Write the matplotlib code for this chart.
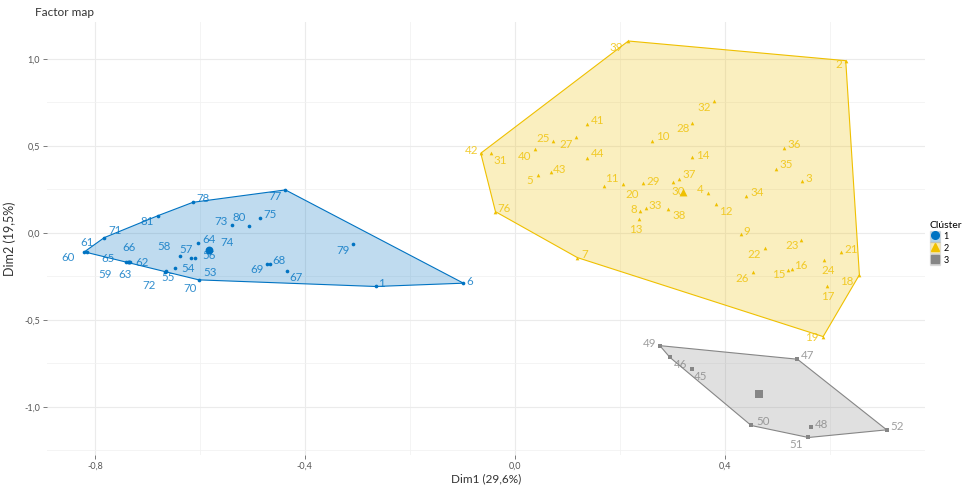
import matplotlib
matplotlib.use("Agg")
import matplotlib.pyplot as plt
from matplotlib.patches import Polygon, Patch
from matplotlib.lines import Line2D

plt.rcParams['font.family'] = ['Lato', 'DejaVu Sans']

# Cluster 1 (blue, circles)
c1_labels = ["77", "78", "81", "71", "61", "60", "66", "65", "62", "59", "63", "72", "55",
             "54", "58", "57", "53", "64", "74", "56", "73", "80", "75", "70", "69", "68",
             "67", "79", "1", "6"]
c1_x = [-0.437, -0.613, -0.679, -0.782, -0.814, -0.820, -0.735, -0.741, -0.736, -0.733,
        -0.735, -0.667, -0.665, -0.648, -0.637, -0.616, -0.610, -0.603, -0.582, -0.584,
        -0.538, -0.507, -0.485, -0.602, -0.472, -0.467, -0.434, -0.309, -0.265, -0.098]
c1_y = [0.247, 0.176, 0.100, -0.027, -0.107, -0.109, -0.167, -0.165, -0.166, -0.170,
        -0.168, -0.222, -0.219, -0.199, -0.132, -0.142, -0.142, -0.059, -0.094, -0.107,
        0.046, 0.040, 0.084, -0.270, -0.180, -0.180, -0.220, -0.063, -0.308, -0.289]

# Cluster 2 (yellow, triangles)
c2_labels = ["39", "2", "32", "41", "28", "25", "27", "10", "42", "31", "40", "44", "36",
             "14", "35", "5", "43", "3", "11", "20", "29", "37", "30", "4", "34", "12",
             "8", "33", "38", "13", "76", "9", "23", "22", "21", "7", "24", "16", "15",
             "26", "18", "17", "19"]
c2_x = [0.216, 0.630, 0.379, 0.137, 0.337, 0.072, 0.116, 0.261, -0.065, -0.046, 0.038,
        0.137, 0.513, 0.338, 0.498, 0.044, 0.068, 0.547, 0.170, 0.205, 0.244, 0.312,
        0.302, 0.368, 0.440, 0.383, 0.239, 0.250, 0.292, 0.237, -0.037, 0.430, 0.545,
        0.476, 0.621, 0.119, 0.589, 0.527, 0.520, 0.454, 0.656, 0.594, 0.587]
c2_y = [1.103, 0.990, 0.760, 0.625, 0.634, 0.530, 0.550, 0.529, 0.458, 0.458, 0.481,
        0.433, 0.490, 0.435, 0.368, 0.330, 0.349, 0.299, 0.272, 0.280, 0.286, 0.310,
        0.295, 0.232, 0.214, 0.165, 0.126, 0.142, 0.138, 0.079, 0.122, -0.008, -0.040,
        -0.084, -0.111, -0.142, -0.155, -0.207, -0.212, -0.226, -0.241, -0.308, -0.596]

# Cluster 3 (grey, squares)
c3_labels = ["49", "46", "45", "47", "50", "48", "51", "52"]
c3_x = [0.276, 0.295, 0.337, 0.538, 0.450, 0.564, 0.559, 0.708]
c3_y = [-0.648, -0.715, -0.784, -0.726, -1.107, -1.117, -1.176, -1.132]

# cluster centres
center_x = [-0.582, 0.321, 0.465]
center_y = [-0.098, 0.237, -0.927]

# label offsets in pixels (right, down)
label_off = {
    "77": (-10, 7), "78": (10, -4), "81": (-11, 6), "71": (11, -7), "61": (0, -9),
    "60": (-16, 6), "66": (0, -14), "65": (-18, -3), "62": (14, 1), "59": (-25, 12),
    "63": (-4, 12), "72": (-16, 14), "55": (2, 6), "54": (13, 1), "58": (-16, -9),
    "57": (-5, -8), "53": (15, 15), "64": (11, -4), "74": (18, -7), "56": (1, 4),
    "73": (-11, -3), "80": (-9, -8), "75": (10, -4), "70": (-9, 9), "69": (-10, 5),
    "68": (9, -4), "67": (9, 6), "79": (-10, 7), "1": (6, -3), "6": (6, -2),
    "39": (-12, 6), "2": (-7, 4), "32": (-10, 7), "41": (11, -4), "28": (-9, 6),
    "25": (-10, -2), "27": (-10, 7), "10": (11, -4), "42": (-9, -3), "31": (9, 7),
    "40": (-10, 7), "44": (11, -4), "36": (10, -3), "14": (10, -2), "35": (10, -4),
    "5": (-8, 5), "43": (9, -3), "3": (7, -2), "11": (8, -7), "20": (10, 10),
    "29": (10, -2), "37": (10, -4), "30": (5, 10), "4": (-8, -3), "34": (11, -3),
    "12": (10, 7), "8": (-7, -1), "33": (9, -3), "38": (11, 7), "13": (-4, 10),
    "76": (9, -3), "9": (6, -3), "23": (-9, 6), "22": (-11, 7), "21": (10, -3),
    "7": (7, -3), "24": (4, 11), "16": (9, -3), "15": (-9, 5), "26": (-11, 6),
    "18": (-13, 7), "17": (1, 10), "19": (-11, 1),
    "49": (-10, -2), "46": (11, 7), "45": (9, 7), "47": (10, -4), "50": (12, -4),
    "48": (10, -3), "51": (-12, 7), "52": (10, -3),
}

colors = ["#0073C2", "#EFC000", "#868686"]
markers = ["o", "^", "s"]
clusters = [(c1_labels, c1_x, c1_y), (c2_labels, c2_x, c2_y), (c3_labels, c3_x, c3_y)]


def hull(pts):
    pts = sorted(set(pts))

    def cross(o, a, b):
        return (a[0] - o[0]) * (b[1] - o[1]) - (a[1] - o[1]) * (b[0] - o[0])
    lower, upper = [], []
    for p in pts:
        while len(lower) >= 2 and cross(lower[-2], lower[-1], p) <= 0:
            lower.pop()
        lower.append(p)
    for p in reversed(pts):
        while len(upper) >= 2 and cross(upper[-2], upper[-1], p) <= 0:
            upper.pop()
        upper.append(p)
    return lower[:-1] + upper[:-1]


fig = plt.figure(figsize=(9.68, 4.86), dpi=100)
ax = fig.add_axes([0.0486, 0.064, 0.907, 0.891])

for i, (labs, xs, ys) in enumerate(clusters):
    col = colors[i]
    pts = hull(list(zip(xs, ys)))
    ax.add_patch(Polygon(pts, closed=True, facecolor=col, alpha=0.25,
                         edgecolor="none", zorder=1))
    ax.add_patch(Polygon(pts, closed=True, facecolor="none", edgecolor=col,
                         lw=0.8, zorder=2))
    ax.scatter(xs, ys, marker=markers[i], s=7, color=col, zorder=3, linewidths=0)
    ax.scatter([center_x[i]], [center_y[i]], marker=markers[i], s=32, color=col,
               zorder=3, linewidths=0)
    for lab, x, y in zip(labs, xs, ys):
        dx, dy = label_off.get(lab, (8, -3))
        ax.annotate(lab, (x, y), xytext=(dx, -dy), textcoords="offset pixels",
                    ha="center", va="center", fontsize=8.3, color=col, alpha=0.8,
                    zorder=4)

ax.set_xlim(-0.891, 0.781)
ax.set_ylim(-1.276, 1.213)
ax.set_xticks([-0.8, -0.4, 0.0, 0.4])
ax.set_xticklabels(["-0,8", "-0,4", "0,0", "0,4"])
ax.set_yticks([-1.0, -0.5, 0.0, 0.5, 1.0])
ax.set_yticklabels(["-1,0", "-0,5", "0,0", "0,5", "1,0"])
ax.set_xticks([-0.6, -0.2, 0.2, 0.6], minor=True)
ax.set_yticks([-1.25, -0.75, -0.25, 0.25, 0.75], minor=True)
ax.grid(True, which="major", color="#ebebeb", lw=0.8)
ax.grid(True, which="minor", color="#f2f2f2", lw=0.6)
ax.set_axisbelow(True)
ax.tick_params(which="major", length=3, width=0.6, color="#666666", labelsize=6.5,
               labelcolor="#555555", pad=2)
ax.tick_params(which="minor", length=0)
for s in ax.spines.values():
    s.set_visible(False)

ax.set_xlabel("Dim1 (29,6%)", fontsize=8.5, color="#333333", labelpad=2)
ax.set_ylabel("Dim2 (19,5%)", fontsize=9, color="#333333", labelpad=6)
fig.text(0.036, 0.962, "Factor map", fontsize=8.5, color="#333333", va="bottom")

handles = [(Patch(facecolor=colors[i], alpha=0.3, edgecolor="#aaaaaa"),
            Line2D([], [], marker=markers[i], color=colors[i], ls="", ms=5.5))
           for i in range(3)]
leg = fig.legend(handles, ["1", "2", "3"], title="Clúster", loc="center left",
                 bbox_to_anchor=(0.957, 0.5), frameon=False, fontsize=6.5,
                 title_fontsize=7.5, handlelength=1.1, handleheight=1.5,
                 handletextpad=0.4, labelspacing=0.1, borderaxespad=0)
leg._legend_box.align = "left"

fig.savefig("out.png", dpi=100)
